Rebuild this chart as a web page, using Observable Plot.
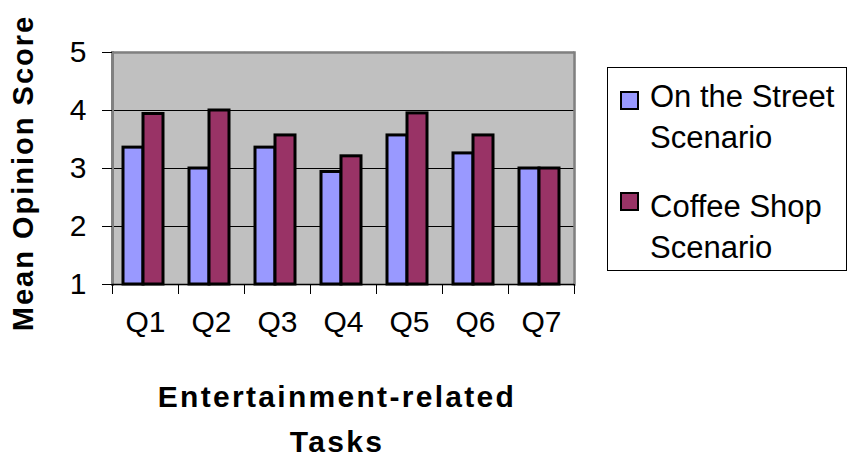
<!DOCTYPE html>
<html>
<head>
<meta charset="utf-8">
<script src="https://cdn.jsdelivr.net/npm/d3@7"></script>
<script src="https://cdn.jsdelivr.net/npm/@observablehq/plot@0.6"></script>
<style>
  html, body { margin: 0; padding: 0; background: white; }
  #wrap { position: relative; width: 850px; height: 457px; overflow: hidden; font-family: "Liberation Sans", Arial, sans-serif; color: black; }
  #chart { position: absolute; left: 0; top: 0; }
  .legend { position: absolute; left: 607px; top: 67px; width: 240px; height: 204px; border: 1px solid #000; box-sizing: border-box; }
  .sw { position: absolute; width: 19px; height: 19px; border: 2px solid #000; box-sizing: border-box; }
  .lt { position: absolute; left: 650px; font-size: 31px; line-height: 41px; white-space: nowrap; }
  .xt { position: absolute; left: 137px; width: 400px; text-align: center; font-weight: bold; font-size: 30px; line-height: 45px; letter-spacing: 2.3px; top: 374px; }
  .yt { position: absolute; left: 23px; top: 173px; transform: translate(-50%, -50%) rotate(-90deg); font-weight: bold; font-size: 29px; line-height: 29px; letter-spacing: 2px; white-space: nowrap; }
</style>
</head>
<body>
<div id="wrap">
  <div id="chart"></div>
</div>
<script>
const questions = ["Q1", "Q2", "Q3", "Q4", "Q5", "Q6", "Q7"];
const seriesNames = ["On the Street Scenario", "Coffee Shop Scenario"];
const legendLines = [["On the Street", "Scenario"], ["Coffee Shop", "Scenario"]];
const streetScores = [3.36, 3.0, 3.36, 2.94, 3.57, 3.26, 3.0];
const coffeeScores = [3.94, 4.0, 3.57, 3.21, 3.95, 3.57, 3.0];
const yTicks = [1, 2, 3, 4, 5];
const gridValues = [2, 3, 4];
const yMin = 1, yMax = 5;
const seriesColors = ["#9999ff", "#993366"];
const xTitle = ["Entertainment-related", "Tasks"];
const yTitle = "Mean Opinion Score";

const data = questions.flatMap((q, i) => [
  {q, series: seriesNames[0], value: streetScores[i]},
  {q, series: seriesNames[1], value: coffeeScores[i]}
]);

const W = 850, H = 457, mL = 112, mR = 276, mT = 52, mB = 173;
const band = (W - mL - mR) / questions.length;

const chart = Plot.plot({
  width: W, height: H,
  marginLeft: mL, marginRight: mR, marginTop: mT, marginBottom: mB,
  style: {fontFamily: "'Liberation Sans', Arial, sans-serif", background: "transparent", overflow: "visible", color: "black"},
  fx: {domain: questions, padding: 0},
  x: {domain: seriesNames, paddingInner: 0, paddingOuter: 0.65, align: 0.42, axis: null},
  y: {domain: [yMin, yMax]},
  color: {domain: seriesNames, range: seriesColors},
  marks: [
    Plot.frame({fill: "#c0c0c0", stroke: "#c0c0c0", strokeWidth: 1.5}),
    Plot.ruleY(gridValues, {stroke: "black", strokeWidth: 1}),
    Plot.ruleY([yMax], {stroke: "#808080", strokeWidth: 2.5}),
    Plot.frame({anchor: "right", facetAnchor: "right", stroke: "#808080", strokeWidth: 2.5}),
    Plot.frame({anchor: "left", facetAnchor: "left", stroke: "#808080", strokeWidth: 3}),
    Plot.barY(data, {fx: "q", x: "series", y1: yMin, y2: "value", fill: "series", stroke: "black", strokeWidth: 3}),
    Plot.ruleY([yMin], {stroke: "black", strokeWidth: 1.5}),
    Plot.axisY({ticks: yTicks, tickFormat: d => String(d), tickSize: 10, tickPadding: 16, fontSize: 30, label: null, stroke: "black", strokeOpacity: 1}),
    Plot.axisFx({anchor: "bottom", tickSize: 0, tickPadding: 26, fontSize: 30, label: null}),
    Plot.axisFx({anchor: "bottom", tickSize: 10, text: null, label: null, dx: -band / 2, stroke: "black", strokeOpacity: 1}),
    Plot.axisFx({anchor: "bottom", ticks: [questions[questions.length - 1]], tickSize: 10, text: null, label: null, dx: band / 2, stroke: "black", strokeOpacity: 1})
  ]
});
document.getElementById("chart").appendChild(chart);

const wrap = document.getElementById("wrap");
const legend = document.createElement("div");
legend.className = "legend";
wrap.appendChild(legend);
const swTops = [91, 192];
const textTops = [76, 186];
seriesNames.forEach((s, i) => {
  const sw = document.createElement("div");
  sw.className = "sw";
  sw.style.left = "620px";
  sw.style.top = swTops[i] + "px";
  sw.style.background = seriesColors[i];
  wrap.appendChild(sw);
  const t = document.createElement("div");
  t.className = "lt";
  t.style.top = textTops[i] + "px";
  t.innerHTML = legendLines[i].join("<br>");
  wrap.appendChild(t);
});
const xt = document.createElement("div");
xt.className = "xt";
xt.innerHTML = xTitle.join("<br>");
wrap.appendChild(xt);
const yt = document.createElement("div");
yt.className = "yt";
yt.textContent = yTitle;
wrap.appendChild(yt);
</script>
</body>
</html>
